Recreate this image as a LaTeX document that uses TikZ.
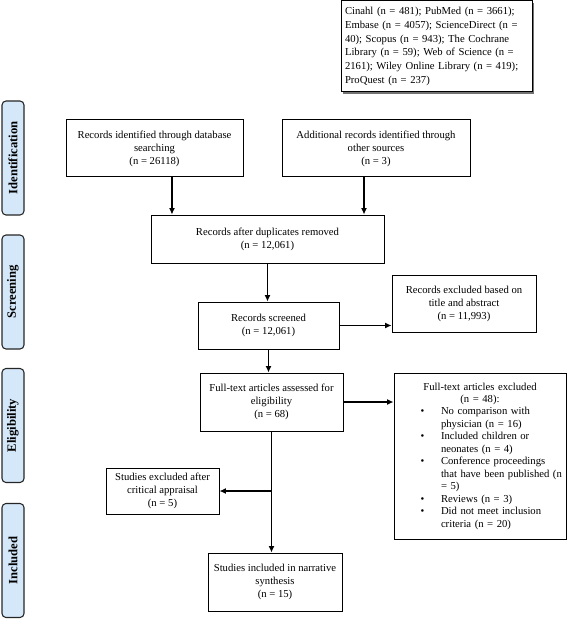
\documentclass[tikz,border=0pt]{standalone}
\usepackage{fontspec}
\setmainfont{Liberation Serif}
\usetikzlibrary{arrows.meta,calc,shadows}
\definecolor{lblue}{RGB}{213,232,250}
\newcommand\ftb{\leavevmode\llap{\textbullet\hspace{12.4pt}}}
\begin{document}
\begin{tikzpicture}[x=0.75pt,y=-0.75pt,
  box/.style={draw=black,line width=0.75pt,fill=white,inner sep=1pt,align=center,font=\fontsize{8}{9.8}\selectfont},
  lbl/.style={draw=black!85,line width=0.8pt,fill=lblue,rounded corners=3pt,rotate=90,minimum height=16.5pt,minimum width=85.5pt,inner sep=0pt,font=\fontsize{9.5}{11}\selectfont\bfseries},
  arr/.style={-{Latex[length=4.8pt,width=4.4pt]},line width=0.8pt}]
\useasboundingbox (0,0) rectangle (568,620);

% side labels
\node[lbl] (lid) at (13,158) {Identification};
\node[lbl] (lsc) at (13,292) {Screening};
\node[lbl] (lel) at (13,425.5) {Eligibility};
\node[lbl] (lin) at (13,560.5) {Included};

% database box
\node[box,drop shadow={shadow xshift=1.6pt,shadow yshift=-1.6pt,fill=black!55,opacity=1},
  minimum width=143.25pt,minimum height=68.25pt,text width=137.25pt,inner xsep=3pt,align=left,
  font=\fontsize{8}{10.35}\selectfont] (db) at (436.5,46.5)
 {\makebox[137.25pt][s]{Cinahl (n = 481); PubMed (n = 3661);}\\
  \makebox[137.25pt][s]{Embase (n = 4057); ScienceDirect (n =}\\
  \makebox[137.25pt][s]{40); Scopus (n = 943); The Cochrane}\\
  \makebox[137.25pt][s]{Library (n = 59); Web of Science (n =}\\
  \makebox[137.25pt][s]{2161); Wiley Online Library (n = 419);}\\
  \makebox[137.25pt][l]{ProQuest (n = 237)}};

\node[box,minimum width=132.75pt,minimum height=42.75pt] (b1) at (154.5,148.5)
 {Records identified through database\\searching\\(n = 26118)};
\node[box,minimum width=141pt,minimum height=42.75pt] (b2) at (376,148.5)
 {Additional records identified through\\other sources\\(n = 3)};
\node[box,minimum width=174.75pt,minimum height=36pt] (mid) at (267.5,239)
 {Records after duplicates removed\\(n = 12,061)};
\node[box,minimum width=105.75pt,minimum height=35.25pt] (scr) at (268.5,325.5)
 {Records screened\\(n = 12,061)};
\node[box,minimum width=108pt,minimum height=42.75pt] (exc) at (464,303.5)
 {Records excluded based on\\title and abstract\\(n = 11,993)};
\node[box,minimum width=107.25pt,minimum height=43.5pt] (ft) at (271.5,402)
 {Full-text articles assessed for\\eligibility\\(n = 68)};
\node[box,minimum width=129pt,minimum height=124.5pt,text width=129pt,inner sep=0pt,align=left,
  font=\fontsize{8}{9.35}\selectfont] (ftx) at (480,456)
 {\parindent=0pt{\centering Full-text articles excluded\\(n = 48):\par}
  \leftskip=35.25pt\relax
  \ftb No comparison with\\physician (n = 16)\par
  \ftb Included children or\\neonates (n = 4)\par
  \ftb Conference proceedings\\that have been published (n\\= 5)\par
  \ftb Reviews (n = 3)\par
  \ftb Did not meet inclusion\\criteria (n = 20)\par};
\node[box,minimum width=84.75pt,minimum height=34.5pt] (crit) at (162.5,491)
 {Studies excluded after\\critical appraisal\\(n = 5)};
\node[box,minimum width=100.5pt,minimum height=43.5pt] (inc) at (275,582)
 {Studies included in narrative\\synthesis\\(n = 15)};

% connectors
\draw[arr] ([xshift=13.1pt]b1.south) -- ([xshift=13.1pt]b1.south |- mid.north);
\draw[arr] ([xshift=-9pt]b2.south) -- ([xshift=-9pt]b2.south |- mid.north);
\draw[arr] (mid.south) -- (mid.south |- scr.north);
\draw[arr] (scr.east) -- (scr.east -| exc.west);
\draw[arr] (scr.south) -- (scr.south |- ft.north);
\draw[arr] (ft.east) -- (ft.east -| ftx.west);
\coordinate (br) at (ft.south |- crit.east);
\draw[arr] (ft.south) -- (ft.south |- inc.north);
\draw[arr] (br) -- (crit.east);
\end{tikzpicture}
\end{document}
